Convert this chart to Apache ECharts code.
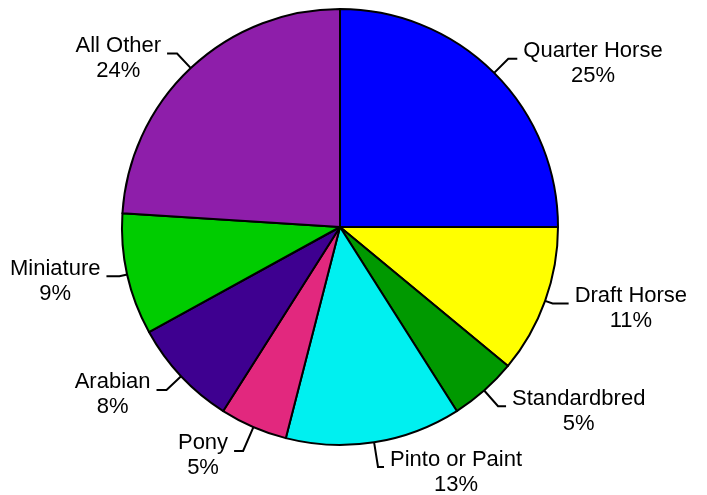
<!DOCTYPE html>
<html>
<head>
<meta charset="utf-8">
<script src="https://cdn.jsdelivr.net/npm/echarts@6/dist/echarts.min.js"></script>
<style>
html,body{margin:0;padding:0;background:#fff;}
#chart{width:707px;height:495px;}
</style>
</head>
<body>
<div id="chart"></div>
<script>
const categories = ['Quarter Horse', 'Draft Horse', 'Standardbred', 'Pinto or Paint', 'Pony', 'Arabian', 'Miniature', 'All Other'];
const values = [25, 11, 5, 13, 5, 8, 9, 24];
const colors = ['#0000FF', '#FFFF00', '#009900', '#00F0F0', '#E2287E', '#3E0090', '#00CC00', '#8E1EAA'];
// leader line segment lengths (radial, horizontal)
const leaderLen = [20, 8, 21, 25, 26, 20, 8, 20];
const leaderLen2 = [9, 16, 8, 6, 9, 10, 13, 10];

const data = categories.map((name, i) => ({
  name: name,
  value: values[i],
  itemStyle: { color: colors[i] },
  labelLine: { length: leaderLen[i], length2: leaderLen2[i] }
}));

const chart = echarts.init(document.getElementById('chart'));
chart.setOption({
  animation: false,
  backgroundColor: '#ffffff',
  series: [{
    type: 'pie',
    center: [340, 227],
    radius: 218,
    startAngle: 90,
    clockwise: true,
    avoidLabelOverlap: false,
    data: data,
    itemStyle: { borderColor: '#000', borderWidth: 2 },
    emphasis: { disabled: true },
    label: {
      show: true,
      position: 'outside',
      distanceToLabelLine: 6,
      padding: [10, 0, 0, 0],
      formatter: p => '{n|' + p.name + '}\n{n|' + p.value + '%}',
      rich: {
        n: { align: 'center', fontFamily: 'Liberation Sans, Arial, sans-serif', fontSize: 22, lineHeight: 25, color: '#000' }
      }
    },
    labelLine: {
      show: true,
      smooth: false,
      lineStyle: { color: '#000', width: 2 }
    }
  }]
});
</script>
</body>
</html>
